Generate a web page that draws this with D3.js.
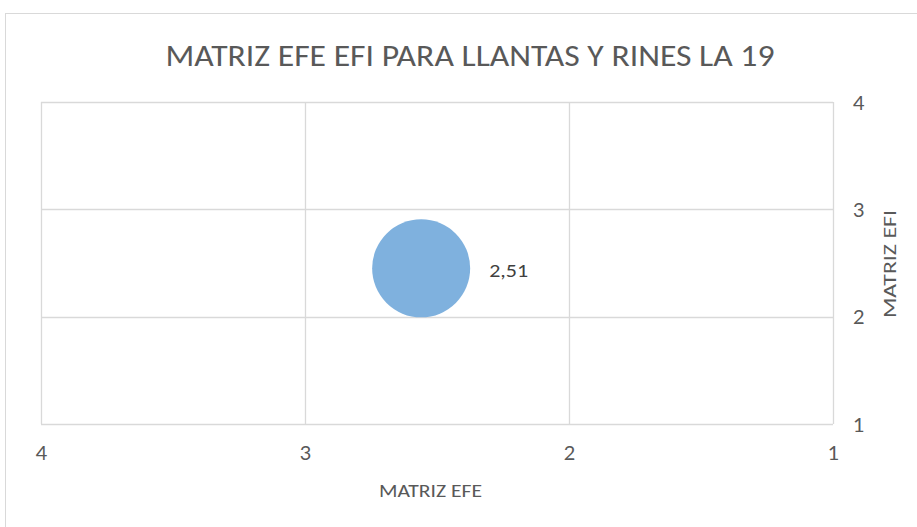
<!DOCTYPE html>
<html><head><meta charset="utf-8">
<script src="https://cdn.jsdelivr.net/npm/d3@7"></script>
<style>body{margin:0;background:#fff;}svg{display:block;font-family:Carlito,Calibri,Lato,"Open Sans",sans-serif;}</style>
</head><body>
<script>
const title = "MATRIZ EFE EFI PARA LLANTAS Y RINES LA 19";
const xLabel = "MATRIZ EFE";
const yLabel = "MATRIZ EFI";
const xTicks = [4, 3, 2, 1];
const yTicks = [1, 2, 3, 4];
const bubbleEFE = [2.56];
const bubbleEFI = [2.45];
const bubbleSize = [2.51];
const bubbleLabels = ["2,51"];

const W = 917, H = 527;
const svg = d3.select("body").append("svg").attr("width", W).attr("height", H);
svg.append("rect").attr("x", 5.5).attr("y", 13.5).attr("width", W + 10).attr("height", H + 10)
  .attr("fill", "#fff").attr("stroke", "#D9D9D9").attr("stroke-width", 1);

const x = d3.scaleLinear().domain([4, 1]).range([41, 833]);
const y = d3.scaleLinear().domain([1, 4]).range([424, 102]);
const r = d3.scaleSqrt().domain([0, 2.51]).range([0, 49]);

const g = svg.append("g");
g.selectAll(".vg").data(xTicks).join("line")
  .attr("x1", d => Math.round(x(d)) + 0.5).attr("x2", d => Math.round(x(d)) + 0.5)
  .attr("y1", y(4)).attr("y2", y(1)).attr("stroke", "#D9D9D9").attr("stroke-width", 1.3);
g.selectAll(".hg").data(yTicks).join("line")
  .attr("y1", d => Math.round(y(d)) + 0.5).attr("y2", d => Math.round(y(d)) + 0.5)
  .attr("x1", x(4)).attr("x2", x(1)).attr("stroke", "#D9D9D9").attr("stroke-width", 1.3);

const xAxis = d3.axisBottom(x).tickValues(xTicks).tickSize(0).tickPadding(0).tickFormat(d3.format("d"));
const xa = svg.append("g").attr("transform", "translate(0,424)").call(xAxis);
xa.select(".domain").remove();
xa.selectAll("text").attr("dy", null).attr("y", 36)
  .style("font-size", "20px").style("font-family", "Lato, sans-serif").attr("fill", "#595959");

const yAxis = d3.axisRight(y).tickValues(yTicks).tickSize(0).tickPadding(0).tickFormat(d3.format("d"));
const ya = svg.append("g").attr("transform", "translate(833,0)").call(yAxis);
ya.select(".domain").remove();
ya.selectAll("text").attr("dy", null).attr("x", 20).attr("y", 7)
  .style("font-size", "20px").style("font-family", "Lato, sans-serif").attr("fill", "#595959");

const pts = bubbleEFE.map((v, i) => ({x: v, y: bubbleEFI[i], s: bubbleSize[i], l: bubbleLabels[i]}));
svg.selectAll(".b").data(pts).join("circle")
  .attr("cx", d => x(d.x)).attr("cy", d => y(d.y)).attr("r", d => r(d.s))
  .attr("fill", "#7FB1DE");
svg.selectAll(".bl").data(pts).join("text")
  .attr("x", d => x(d.x) + r(d.s) + 19).attr("y", d => y(d.y) + 9)
  .attr("fill", "#404040").style("font-size", "19px").attr("textLength", 39).attr("lengthAdjust", "spacingAndGlyphs")
  .text(d => d.l);

svg.append("text").attr("x", 470).attr("y", 66).attr("text-anchor", "middle")
  .attr("fill", "#595959").style("font-size", "30px").attr("textLength", 609).attr("lengthAdjust", "spacingAndGlyphs")
  .text(title);
svg.append("text").attr("x", 430.5).attr("y", 497).attr("text-anchor", "middle")
  .attr("fill", "#595959").style("font-size", "18.5px").attr("textLength", 103).attr("lengthAdjust", "spacingAndGlyphs")
  .text(xLabel);
svg.append("text").attr("transform", "translate(896,264) rotate(-90)").attr("text-anchor", "middle")
  .attr("fill", "#595959").style("font-size", "18.5px").attr("textLength", 108).attr("lengthAdjust", "spacingAndGlyphs")
  .text(yLabel);
</script>
</body></html>
